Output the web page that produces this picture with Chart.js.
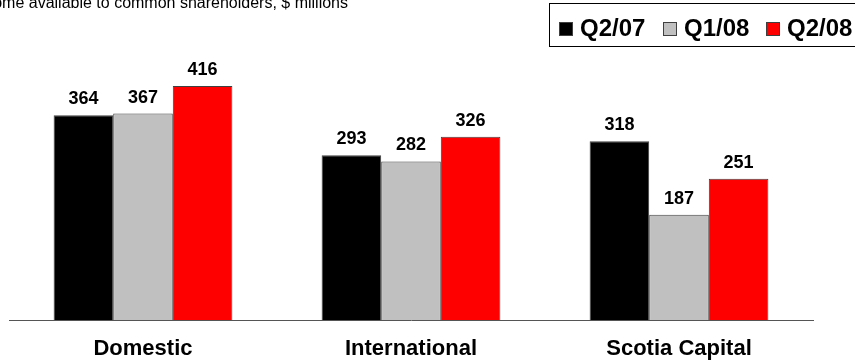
<!DOCTYPE html>
<html>
<head>
<meta charset="utf-8">
<script src="https://cdn.jsdelivr.net/npm/chart.js@4/dist/chart.umd.min.js"></script>
<style>
  html, body { margin: 0; padding: 0; background: #fff; }
  #wrap { width: 855px; height: 362px; }
</style>
</head>
<body>
<div id="wrap"><canvas id="myChart" width="855" height="362"></canvas></div>
<script>
const categories = ['Domestic', 'International', 'Scotia Capital'];
const seriesLabels = ['Q2/07', 'Q1/08', 'Q2/08'];
const q207 = [364, 293, 318];
const q108 = [367, 282, 187];
const q208 = [416, 326, 251];
const seriesColors = ['#000000', '#c0c0c0', '#ff0000'];
const subtitle = 'Net income available to common shareholders, $ millions';

const FONT = '"Liberation Sans", Arial, sans-serif';

// value on top of each bar
const barValues = {
    id: 'barValues',
    afterDatasetsDraw(chart) {
        const ctx = chart.ctx;
        ctx.save();
        ctx.font = 'bold 18px ' + FONT;
        ctx.fillStyle = '#000';
        ctx.textAlign = 'center';
        ctx.textBaseline = 'alphabetic';
        chart.data.datasets.forEach((ds, i) => {
            chart.getDatasetMeta(i).data.forEach((bar, j) => {
                ctx.fillText(ds.data[j], bar.x, bar.y - 11);
            });
        });
        ctx.restore();
    }
};

// subtitle + boxed legend at the top
const header = {
    id: 'header',
    afterDraw(chart) {
        const ctx = chart.ctx;
        ctx.save();
        ctx.font = '16px ' + FONT;
        ctx.fillStyle = '#000';
        ctx.textAlign = 'right';
        ctx.textBaseline = 'alphabetic';
        ctx.fillText(subtitle, 348, 8);

        ctx.strokeStyle = '#000';
        ctx.lineWidth = 1;
        ctx.strokeRect(549.5, 3.5, 320, 43);

        ctx.font = 'bold 24px ' + FONT;
        ctx.textAlign = 'left';
        ctx.textBaseline = 'middle';
        const starts = [559, 663, 766];
        chart.data.datasets.forEach((ds, i) => {
            const x = starts[i];
            ctx.fillStyle = ds.backgroundColor;
            ctx.fillRect(x, 22, 14, 14);
            ctx.strokeStyle = '#404040';
            ctx.strokeRect(x + 0.5, 22.5, 13, 13);
            ctx.fillStyle = '#000';
            ctx.fillText(ds.label, x + 21, 29);
        });
        ctx.restore();
    }
};

const ctx = document.getElementById('myChart').getContext('2d');
const seriesData = [q207, q108, q208];
const myChart = new Chart(ctx, {
    type: 'bar',
    data: {
        labels: categories,
        datasets: seriesLabels.map((label, i) => ({
            label: label,
            data: seriesData[i],
            backgroundColor: seriesColors[i],
            borderColor: '#404040',
            borderWidth: 1,
            categoryPercentage: 0.667,
            barPercentage: 1.0
        }))
    },
    options: {
        responsive: false,
        animation: false,
        layout: {
            padding: { left: 9, right: 42, top: 50, bottom: -16.4 }
        },
        plugins: {
            legend: { display: false },
            tooltip: { enabled: false }
        },
        scales: {
            x: {
                grid: { display: false, drawTicks: false },
                border: { display: true, color: '#555', width: 1 },
                ticks: {
                    color: '#000',
                    padding: 16,
                    font: { family: FONT, size: 22, weight: 'bold' }
                }
            },
            y: {
                display: false,
                min: 0,
                max: 480
            }
        }
    },
    plugins: [barValues, header]
});
</script>
</body>
</html>
